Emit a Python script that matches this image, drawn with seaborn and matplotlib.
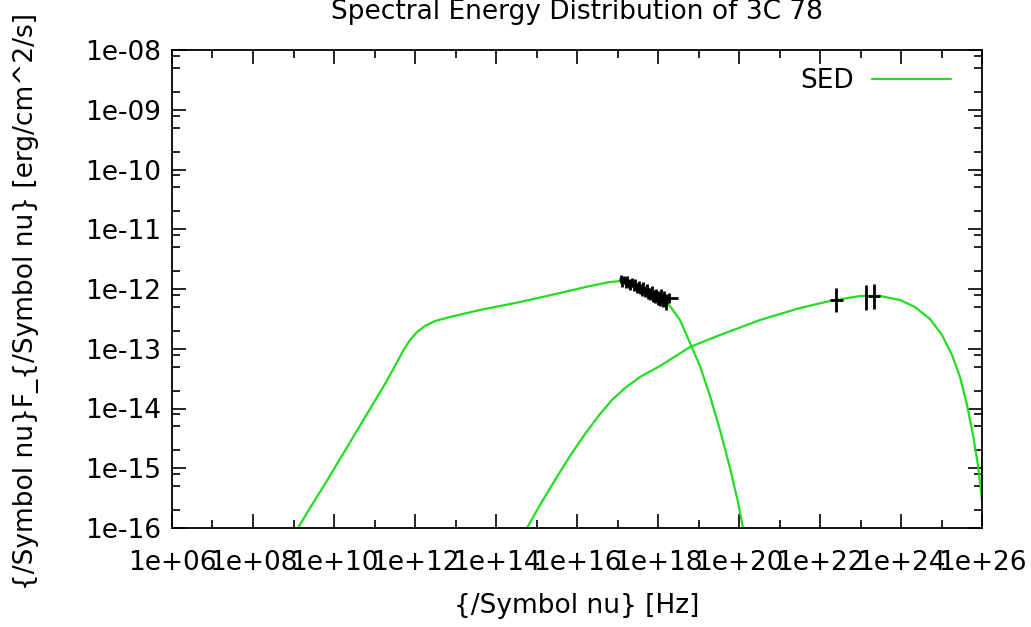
import numpy as np
import pandas as pd
import matplotlib
matplotlib.use("Agg")
import matplotlib.pyplot as plt
import matplotlib.ticker as mticker
import seaborn as sns

# Modelo sincrotron (log10 nu, log10 nuFnu)
sync_lognu = [9.111, 9.407, 9.778, 10.148, 10.519, 10.889, 11.259, 11.506, 11.704, 11.877,
              12.049, 12.247, 12.494, 12.864, 13.605, 14.593, 15.580, 16.321, 16.815, 17.111,
              17.432, 17.753, 18.049, 18.296, 18.543, 18.790, 19.037, 19.284, 19.531, 19.778,
              19.975, 20.099]
sync_logf = [-16.0, -15.665, -15.264, -14.845, -14.427, -14.008, -13.590, -13.289, -13.038,
             -12.854, -12.720, -12.619, -12.536, -12.469, -12.351, -12.218, -12.067, -11.950,
             -11.883, -11.866, -11.900, -11.983, -12.117, -12.285, -12.519, -12.904, -13.289,
             -13.791, -14.360, -14.996, -15.565, -16.0]

# Modelo inverse Compton
ic_lognu = [14.765, 15.086, 15.457, 15.827, 16.198, 16.568, 16.864, 17.185, 17.556, 18.049,
            18.790, 19.531, 20.519, 21.506, 22.247, 22.988, 23.481, 23.975, 24.346, 24.716,
            25.012, 25.259, 25.457, 25.630, 25.778, 25.901, 26.0]
ic_logf = [-16.0, -15.615, -15.197, -14.795, -14.427, -14.092, -13.858, -13.657, -13.473,
           -13.289, -12.971, -12.770, -12.519, -12.318, -12.201, -12.117, -12.117, -12.184,
           -12.301, -12.502, -12.770, -13.105, -13.473, -13.941, -14.444, -14.946, -15.531]

# Datos en rayos X
xr_lognu = [17.08, 17.12, 17.16, 17.20, 17.24, 17.28, 17.32, 17.36, 17.40, 17.44,
            17.48, 17.52, 17.56, 17.60, 17.64, 17.68, 17.72, 17.76, 17.80, 17.84,
            17.88, 17.92, 17.96, 18.00, 18.04, 18.08, 18.12, 18.16, 18.20, 18.26]
xr_logf = [-11.83, -11.88, -11.85, -11.90, -11.86, -11.91, -11.93, -11.89, -11.95, -11.93,
           -11.98, -11.95, -12.00, -12.02, -11.98, -12.05, -12.02, -12.07, -12.09, -12.05,
           -12.11, -12.13, -12.10, -12.15, -12.17, -12.12, -12.19, -12.16, -12.22, -12.15]
xr_dlogf = [0.07, 0.08, 0.07, 0.08, 0.07, 0.08, 0.08, 0.07, 0.08, 0.09,
            0.08, 0.09, 0.08, 0.09, 0.09, 0.09, 0.10, 0.09, 0.10, 0.10,
            0.10, 0.11, 0.10, 0.11, 0.11, 0.12, 0.11, 0.12, 0.13, 0.08]
xr_dlognu = [0.04] * 29 + [0.24]

# Datos en rayos gamma
g_lognu = [22.40, 23.14, 23.33]
g_logf = [-12.18, -12.14, -12.12]
g_dlogf = [0.2, 0.21, 0.21]
g_dlognu = [0.16, 0.0, 0.15]

sns.set_style("ticks", {"text.color": "black", "axes.labelcolor": "black"})
plt.rcParams['font.family'] = ['DejaVu Sans']

fig = plt.figure(figsize=(10.31, 6.27), dpi=100)
ax = fig.add_axes([172/1031, 1 - 528/627, 810/1031, 478/627])

verde = "#22dd22"
sed = pd.DataFrame({"nu": 10.0 ** np.array(sync_lognu), "f": 10.0 ** np.array(sync_logf)})
comp = pd.DataFrame({"nu": 10.0 ** np.array(ic_lognu), "f": 10.0 ** np.array(ic_logf)})
sns.lineplot(data=sed, x="nu", y="f", sort=False, estimator=None, color=verde, lw=1.6,
             ax=ax, label="SED")
sns.lineplot(data=comp, x="nu", y="f", sort=False, estimator=None, color=verde, lw=1.6, ax=ax)


def barras(lognu, logf, dlognu, dlogf):
    lognu = np.array(lognu); logf = np.array(logf)
    dlognu = np.array(dlognu); dlogf = np.array(dlogf)
    nu = 10.0 ** lognu
    f = 10.0 ** logf
    xerr = [nu - 10.0 ** (lognu - dlognu), 10.0 ** (lognu + dlognu) - nu]
    yerr = [f - 10.0 ** (logf - dlogf), 10.0 ** (logf + dlogf) - f]
    ax.errorbar(nu, f, xerr=xerr, yerr=yerr, fmt="none", ecolor="black", elinewidth=2.0,
                capsize=0)


barras(xr_lognu, xr_logf, xr_dlognu, xr_dlogf)
barras(g_lognu, g_logf, g_dlognu, g_dlogf)

ax.set_xscale("log")
ax.set_yscale("log")
ax.set_xlim(1e6, 1e26)
ax.set_ylim(1e-16, 1e-8)

xmaj = [10.0 ** e for e in range(6, 27, 2)]
xmin = [10.0 ** e for e in range(7, 26, 2)]
ymaj = [10.0 ** e for e in range(-16, -7)]
ymin = [m * 10.0 ** e for e in range(-16, -8) for m in (2, 5, 8)]
ax.xaxis.set_major_locator(mticker.FixedLocator(xmaj))
ax.xaxis.set_minor_locator(mticker.FixedLocator(xmin))
ax.yaxis.set_major_locator(mticker.FixedLocator(ymaj))
ax.yaxis.set_minor_locator(mticker.FixedLocator(ymin))
fmt = mticker.FuncFormatter(lambda v, p: "1e%+03d" % round(np.log10(v)))
ax.xaxis.set_major_formatter(fmt)
ax.yaxis.set_major_formatter(fmt)
ax.xaxis.set_minor_formatter(mticker.NullFormatter())
ax.yaxis.set_minor_formatter(mticker.NullFormatter())

ax.tick_params(which="both", direction="in", top=True, right=True, width=1.2, labelsize=19,
               colors="black")
ax.tick_params(which="major", length=10)
ax.tick_params(which="minor", length=6)
ax.tick_params(axis="x", pad=16)
ax.tick_params(axis="y", pad=8)
for s in ax.spines.values():
    s.set_linewidth(1.3)
    s.set_color("black")

ax.set_xlabel("{/Symbol nu} [Hz]", fontsize=19, labelpad=12, color="black")
ax.set_ylabel("{/Symbol nu}F_{/Symbol nu} [erg/cm^2/s]", fontsize=19, color="black")
ax.yaxis.set_label_coords(-0.164, 0.474)
fig.text(577/1031, 1 - 19/627, "Spectral Energy Distribution of 3C 78", fontsize=19,
         ha="center", va="baseline", color="black")

ax.legend(loc="upper right", bbox_to_anchor=(0.962, 0.962), frameon=False, markerfirst=False,
          fontsize=19, handlelength=3.0, handletextpad=0.7, borderpad=0, borderaxespad=0)

fig.savefig("out.png", dpi=100)
